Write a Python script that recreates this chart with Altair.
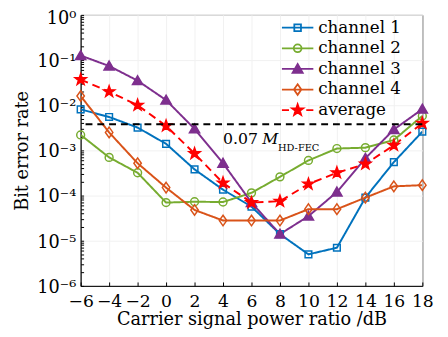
import altair as alt
import pandas as pd

# ---------------- data ----------------
x_db = [-6, -4, -2, 0, 2, 4, 6, 8, 10, 12, 14, 16, 18]
series_names = ["channel 1", "channel 2", "channel 3", "channel 4", "average"]
ch1 = [8.1e-3, 5.5e-3, 3.2e-3, 1.4e-3, 3.8e-4, 1.35e-4, 5.7e-5, 1.4e-5, 5.0e-6, 7.0e-6, 9.0e-5, 5.5e-4, 2.6e-3]
ch2 = [2.2e-3, 7.0e-4, 3.2e-4, 7.0e-5, 7.3e-5, 7.2e-5, 1.15e-4, 2.6e-4, 6.0e-4, 1.1e-3, 1.15e-3, 1.7e-3, 5.8e-3]
ch3 = [1.26e-1, 7.4e-2, 3.5e-2, 1.3e-2, 3.0e-3, 5.2e-4, 7.0e-5, 1.4e-5, 3.5e-5, 1.2e-4, 6.7e-4, 2.9e-3, 8.2e-3]
ch4 = [1.6e-2, 2.5e-3, 5.2e-4, 1.5e-4, 4.8e-5, 2.8e-5, 2.8e-5, 2.8e-5, 5.0e-5, 5.0e-5, 9.0e-5, 1.6e-4, 1.7e-4]
avg = [3.7e-2, 2.0e-2, 1.0e-2, 3.5e-3, 8.5e-4, 1.9e-4, 7.0e-5, 7.5e-5, 1.8e-4, 3.2e-4, 5.0e-4, 1.3e-3, 4.0e-3]
threshold = [3.8e-3]
x_ticks = [-6, -4, -2, 0, 2, 4, 6, 8, 10, 12, 14, 16, 18]
y_ticks = [1e-6, 1e-5, 1e-4, 1e-3, 1e-2, 1e-1, 1e0]
y_minor_mult = [1, 2, 3, 4, 5, 6, 7, 8, 9]
annot_pos = {"x": [4.0], "y": [1.42e-3]}

# ---------------- styles ----------------
colors = ["#0072BD", "#77AC30", "#7E2F8E", "#D95319", "#FF0000"]
fills = ["transparent", "transparent", "#7E2F8E", "transparent", "#FF0000"]
dashes = [[1, 0], [1, 0], [1, 0], [1, 0], [8, 5]]


def fmt(v):
    return ("%.3f" % v).rstrip("0").rstrip(".")


def poly(pts, s=1.0):
    return "M" + " L".join(f"{fmt(px * s)},{fmt(py * s)}" for px, py in pts) + " Z"


def circ(r):
    return f"M{fmt(r)},0 A{fmt(r)},{fmt(r)} 0 1,1 {fmt(-r)},0 A{fmt(r)},{fmt(r)} 0 1,1 {fmt(r)},0 Z"


star_pts = [(0, -1), (0.235, -0.324), (0.951, -0.309), (0.38, 0.124), (0.588, 0.809),
            (0, 0.4), (-0.588, 0.809), (-0.38, 0.124), (-0.951, -0.309), (-0.235, -0.324)]
marker_defs = [
    ("poly", [(-0.85, -0.85), (0.85, -0.85), (0.85, 0.85), (-0.85, 0.85)]),
    ("circ", 1.0),
    ("poly", [(0, -1.25), (1.3, 1.0), (-1.3, 1.0)]),
    ("poly", [(0, -1.35), (0.95, 0), (0, 1.35), (-0.95, 0)]),
    ("poly", [(px * 1.5, py * 1.5) for px, py in star_pts]),
]
MARK_UNIT = 4.0     # px per path unit for data markers (size = (2*unit)^2)
LEG_UNIT = 16.0     # px per path unit for legend symbols


def marker_path(d, s=1.0):
    kind, val = d
    return circ(val * s) if kind == "circ" else poly(val, s)


data_shapes = [marker_path(d) for d in marker_defs]
k = MARK_UNIT / LEG_UNIT
legend_shapes = []
for i, d in enumerate(marker_defs):
    m = marker_path(d, k)
    line = "M-1,0 H-0.55 M0.55,0 H1" if i == 4 else "M-1,0 H1"
    legend_shapes.append(line + " " + m)

rows = []
for name, vals in zip(series_names, [ch1, ch2, ch3, ch4, avg]):
    for xv, yv in zip(x_db, vals):
        rows.append({"x": xv, "ber": yv, "series": name})
df = pd.DataFrame(rows)

y_minor = [m * t for t in y_ticks[:-1] for m in y_minor_mult] + [y_ticks[-1]]

FONT = "DejaVu Serif"

xs = alt.Scale(domain=[-6, 18], nice=False, zero=False)
ys = alt.Scale(type="log", domain=[1e-6, 1], nice=False)

y_label_expr = ("datum.value >= 0.5 ? '10⁰' : datum.value >= 0.05 ? '10⁻¹' : "
                "datum.value >= 0.005 ? '10⁻²' : datum.value >= 0.0005 ? '10⁻³' : "
                "datum.value >= 0.00005 ? '10⁻⁴' : datum.value >= 0.000005 ? '10⁻⁵' : '10⁻⁶'")

X = alt.X("x:Q", scale=xs, axis=alt.Axis(values=x_ticks, title="Carrier signal power ratio /dB",
                                         labelExpr="replace(datum.label, '-', '−')",
                                         ticks=False, labelPadding=7, titlePadding=1,
                                         labelOverlap=False, labelFontSize=17.5,
                                         gridColor="#f1f1f1", labelFlush=False, orient="bottom"))
Y = alt.Y("ber:Q", scale=ys, axis=alt.Axis(values=y_ticks, title="Bit error rate",
                                           labelExpr=y_label_expr, ticks=False,
                                           labelPadding=5, titlePadding=5,
                                           labelOffset={"condition": {"test": "datum.value >= 0.5", "value": 4},
                                                        "value": 1.5},
                                           labelOverlap=False,
                                           gridColor="#f1f1f1", labelFlush=False, orient="left"))
Xn = alt.X("x:Q", scale=xs, axis=None)
Yn = alt.Y("ber:Q", scale=ys, axis=None)

base = alt.Chart(df)

lines = base.mark_line(strokeWidth=2, clip=True).encode(
    x=X, y=Y,
    stroke=alt.Stroke("series:N", scale=alt.Scale(domain=series_names, range=colors), legend=None),
    strokeDash=alt.StrokeDash("series:N", scale=alt.Scale(domain=series_names, range=dashes), legend=None),
    order=alt.Order("x:Q"),
)

# invisible layer that carries inward-pointing tick marks
tick_layer = base.mark_point(opacity=0).encode(
    x=alt.X("x:Q", scale=xs, axis=alt.Axis(values=x_ticks, labels=False, domain=False, grid=False,
                                           ticks=True, tickSize=4, offset=-4, title=None,
                                           tickColor="black", orient="bottom")),
    y=alt.Y("ber:Q", scale=ys, axis=alt.Axis(values=y_minor, labels=False, domain=False, grid=False,
                                             ticks=True, tickSize=3, offset=-3, title=None,
                                             tickColor="black", orient="left")),
)

points = base.mark_point(size=(2 * MARK_UNIT) ** 2, strokeWidth=1.5, opacity=1, filled=False).encode(
    x=Xn, y=Yn,
    shape=alt.Shape("series:N", scale=alt.Scale(domain=series_names, range=data_shapes), legend=None),
    stroke=alt.Stroke("series:N", scale=alt.Scale(domain=series_names, range=colors), legend=None),
    fill=alt.Fill("series:N", scale=alt.Scale(domain=series_names, range=fills), legend=None),
)

leg = alt.Legend(orient="none", legendX=204, legendY=4, title=None,
                 labelFont=FONT, labelFontSize=17, labelColor="black",
                 symbolSize=(2 * LEG_UNIT) ** 2, symbolStrokeWidth=1.8, symbolOpacity=1,
                 symbolOffset=0, labelOffset=4, rowPadding=3, padding=0, clipHeight=18)
legend_layer = base.mark_point(size=(2 * MARK_UNIT) ** 2, opacity=0, filled=False).encode(
    x=Xn, y=Yn,
    shape=alt.Shape("series:N", scale=alt.Scale(domain=series_names, range=legend_shapes), legend=leg),
    stroke=alt.Stroke("series:N", scale=alt.Scale(domain=series_names, range=colors), legend=leg),
    fill=alt.Fill("series:N", scale=alt.Scale(domain=series_names, range=fills), legend=leg),
)

thr = alt.Chart(pd.DataFrame({"t": threshold})).mark_rule(
    color="black", strokeWidth=2, strokeDash=[7, 5]).encode(y=alt.Y("t:Q", scale=ys, axis=None))

adf = pd.DataFrame(annot_pos)
a1 = alt.Chart(adf).mark_text(text="0.07", align="left", baseline="alphabetic",
                              font=FONT, fontSize=16, color="black").encode(
    x=alt.X("x:Q", scale=xs, axis=None), y=alt.Y("y:Q", scale=ys, axis=None))
a2 = alt.Chart(adf).mark_text(text="M", align="left", baseline="alphabetic", dx=40,
                              font=FONT, fontSize=16, fontStyle="italic", color="black").encode(
    x=alt.X("x:Q", scale=xs, axis=None), y=alt.Y("y:Q", scale=ys, axis=None))
a3 = alt.Chart(adf).mark_text(text="HD-FEC", align="left", baseline="alphabetic", dx=56, dy=8,
                              font=FONT, fontSize=10, color="black").encode(
    x=alt.X("x:Q", scale=xs, axis=None), y=alt.Y("y:Q", scale=ys, axis=None))

chart = alt.layer(lines, tick_layer, points, legend_layer, thr, a1, a2, a3).resolve_scale(
    stroke="independent", fill="independent", shape="independent", strokeDash="independent"
).resolve_axis(x="independent", y="independent").properties(
    width=348, height=276, background="white",
    autosize=alt.AutoSizeParams(type="none"),
    padding={"left": 74, "top": 4, "right": 18, "bottom": 49},
).configure_view(stroke="black", strokeWidth=1).configure_axis(
    labelFont=FONT, titleFont=FONT, labelFontSize=18, titleFontSize=18,
    titleFontWeight="normal", labelColor="black", titleColor="black",
    domainColor="black", domainWidth=1,
)

chart.save("out.html", embed_options={"renderer": "svg", "actions": False})
